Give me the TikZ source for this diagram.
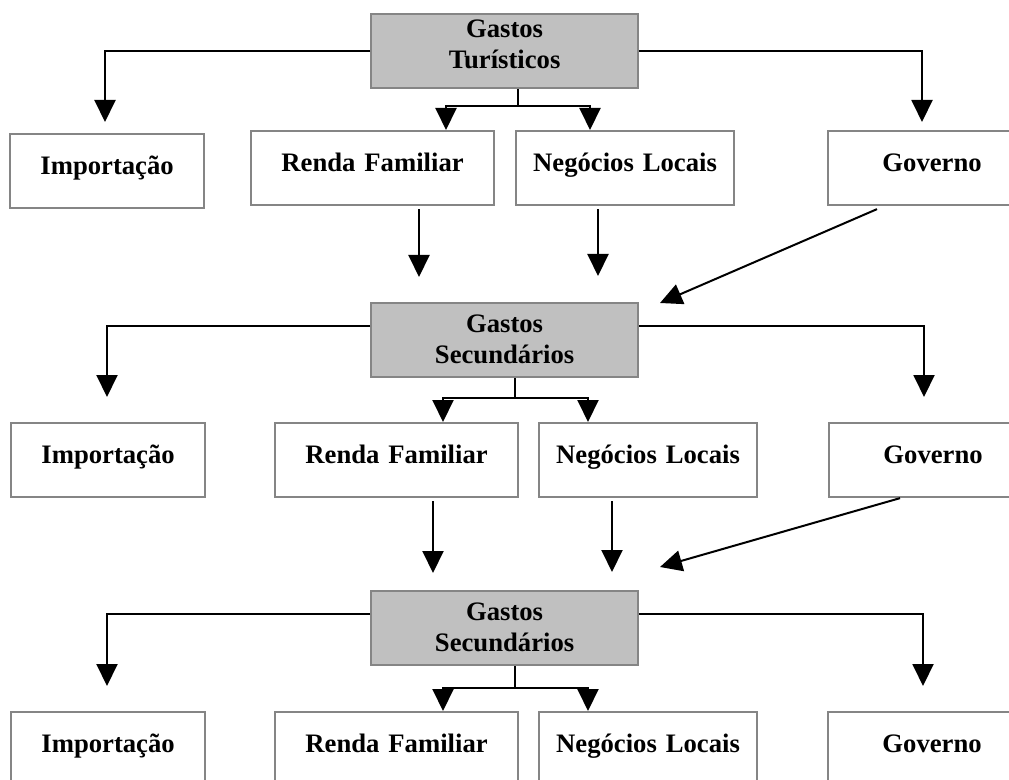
\documentclass[tikz,border=0pt]{standalone}
\usepackage{fontspec}
\setmainfont{Liberation Serif}
\usetikzlibrary{arrows.meta,positioning,calc}
\definecolor{frame}{HTML}{858585}
\definecolor{shade}{HTML}{C0C0C0}

\begin{document}
\begin{tikzpicture}[
  x=0.75pt,y=-0.75pt,
  box/.style={draw=frame,line width=1.6pt,fill=white,text width=#1,inner xsep=0pt,inner ysep=0pt,text height=30pt,text depth=25.5pt,align=center,anchor=north west,font=\fontsize{20pt}{23.25pt}\selectfont\bfseries},
  box/.default=145.5pt,
  hub/.style={box=200.25pt,fill=shade,text height=21.75pt,text depth=33.75pt},
  arr/.style={-{Triangle[width=15.75pt,length=16.5pt]},line width=1.5pt},
  ln/.style={line width=1.5pt}]
  \useasboundingbox (0,0) rectangle (1009,780);
  \clip (0,0) rectangle (1009,780);
  % first level
  \node[hub,text height=17.25pt,text depth=38.25pt] (g1) at (370,13) {Gastos\\Turísticos};
  \node[box] (imp1) at (9,133) {Importação};
  \node[box=182.25pt] (ren1) at (250,130) {Renda Familiar};
  \node[box=163.5pt] (neg1) at (515,130) {Negócios Locais};
  \node[box=156pt] (gov1) at (827,130) {Governo};
  \coordinate (l1) at (105,122); \coordinate (r1) at (922,122);
  \coordinate (s1) at (518,106); \coordinate (a1) at (446,106); \coordinate (b1) at (590,106);
  \coordinate (t1) at (419,277); \coordinate (u1) at (598,276); \coordinate (d1) at (660,303);
  \draw[arr] (g1.west) -| (l1);
  \draw[arr] (g1.east) -| (r1);
  \draw[ln] (g1.south -| s1) -- (s1);
  \draw[arr] (s1) -- (a1) -- (a1 |- ren1.north);
  \draw[arr] (s1) -- (b1) -- (b1 |- neg1.north);
  \draw[arr,shorten <=2.5pt] (ren1.south -| t1) -- (t1);
  \draw[arr,shorten <=2.5pt] (neg1.south -| u1) -- (u1);
  \draw[arr] ($(gov1.south west)+(50,3)$) -- (d1);
  % second level
  \node[hub] (g2) at (370,302) {Gastos\\Secundários};
  \node[box] (imp2) at (10,422) {Importação};
  \node[box=182.25pt] (ren2) at (274,422) {Renda Familiar};
  \node[box=163.5pt] (neg2) at (538,422) {Negócios Locais};
  \node[box=156pt] (gov2) at (828,422) {Governo};
  \coordinate (l2) at (107,397); \coordinate (r2) at (924,397);
  \coordinate (s2) at (515,398); \coordinate (a2) at (443,398); \coordinate (b2) at (588,398);
  \coordinate (t2) at (433,573); \coordinate (u2) at (612,572); \coordinate (d2) at (660,567);
  \draw[arr] ($(g2.north west)+(0,24)$) -| (l2);
  \draw[arr] ($(g2.north east)+(0,24)$) -| (r2);
  \draw[ln] (g2.south -| s2) -- (s2);
  \draw[arr] (s2) -- (a2) -- (a2 |- ren2.north);
  \draw[arr] (s2) -- (b2) -- (b2 |- neg2.north);
  \draw[arr,shorten <=2.5pt] (ren2.south -| t2) -- (t2);
  \draw[arr,shorten <=2.5pt] (neg2.south -| u2) -- (u2);
  \draw[arr] ($(gov2.south west)+(72,0)$) -- (d2);
  % third level
  \node[hub] (g3) at (370,590) {Gastos\\Secundários};
  \node[box] (imp3) at (10,711) {Importação};
  \node[box=182.25pt] (ren3) at (274,711) {Renda Familiar};
  \node[box=163.5pt] (neg3) at (538,711) {Negócios Locais};
  \node[box=156pt] (gov3) at (827,711) {Governo};
  \coordinate (l3) at (107,686); \coordinate (r3) at (923,686);
  \coordinate (s3) at (515,688); \coordinate (a3) at (443,688); \coordinate (b3) at (588,688);
  \draw[arr] ($(g3.north west)+(0,24)$) -| (l3);
  \draw[arr] ($(g3.north east)+(0,24)$) -| (r3);
  \draw[ln] (g3.south -| s3) -- (s3);
  \draw[arr] (s3) -- (a3) -- (a3 |- ren3.north);
  \draw[arr] (s3) -- (b3) -- (b3 |- neg3.north);
\end{tikzpicture}
\end{document}
